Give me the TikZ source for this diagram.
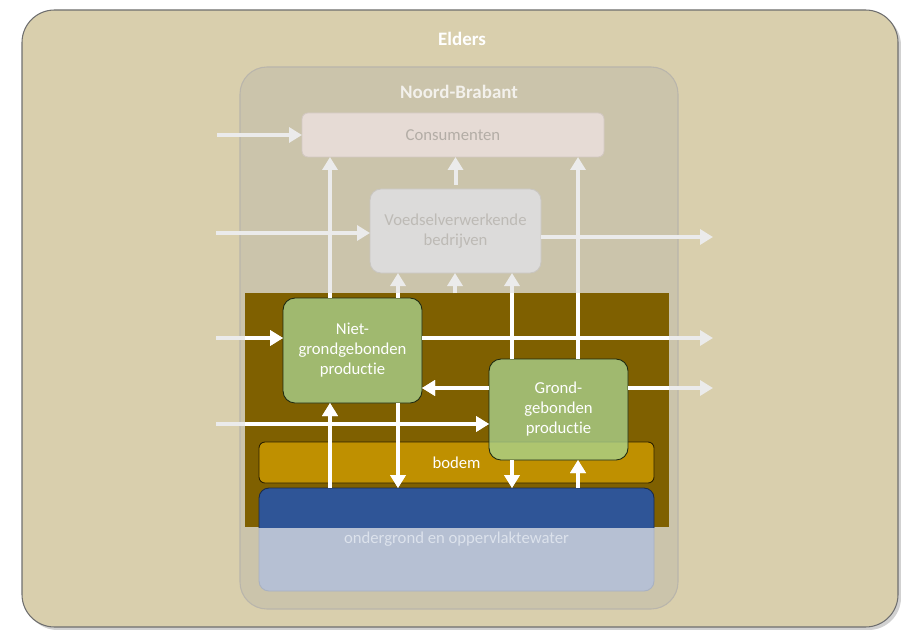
\documentclass[tikz,border=0pt]{standalone}
\usepackage{fontspec}
\setmainfont{Carlito}[Ligatures=NoCommon]
\usetikzlibrary{arrows.meta, calc, positioning}

\definecolor{eldersbg}{HTML}{D9CFAD}
\definecolor{eldersline}{HTML}{6F6F6F}
\definecolor{nbbg}{HTML}{CBC4AB}
\definecolor{nbline}{HTML}{B9B5AB}
\definecolor{nbtitle}{HTML}{F3F1EC}
\definecolor{consbg}{HTML}{E6DBD5}
\definecolor{consline}{HTML}{D3C9C2}
\definecolor{constext}{HTML}{B3ADA6}
\definecolor{voedselbg}{HTML}{DCDBDA}
\definecolor{voedselline}{HTML}{C9C6C1}
\definecolor{voedseltext}{HTML}{BDBAB5}
\definecolor{focusbg}{HTML}{7F6000}
\definecolor{prodbg}{HTML}{AAD591}
\definecolor{prodline}{HTML}{1E2A12}
\definecolor{bodembg}{HTML}{BF9000}
\definecolor{bodemline}{HTML}{2B2000}
\definecolor{waterbg}{HTML}{2F5597}
\definecolor{waterline}{HTML}{1A2A4A}
\definecolor{waterfade}{HTML}{B6C0D3}
\definecolor{waterfadeline}{HTML}{A8B1C2}
\definecolor{watertext}{HTML}{DCE2EC}
\definecolor{fadegray}{HTML}{EBEBEB}

% alle stromen
\newcommand{\flows}{%
\draw[flow] (in1) -- (cons.west);
\draw[flow] (in2) -- (in2 -| voedsel.west);
\draw[flow] (out1 -| voedsel.east) -- (out1);
\draw[flow, shorten <=0.8mm] (voedsel.north) -- (cons.south -| voedsel.north);
\draw[flow] (c1 |- niet.north) -- (c1 |- cons.south);
\draw[flow] (c2 |- niet.north) -- (c2 |- voedsel.south);
\draw[flow] (c3 |- focus.north) -- (c3 |- voedsel.south);
\draw[flow] (c4 |- grond.north) -- (c4 |- voedsel.south);
\draw[flow] (c5 |- grond.north) -- (c5 |- cons.south);
\draw[flow] (in3) -- (in3 -| niet.west);
\draw[flow] (out2 -| niet.east) -- (out2);
\draw[flow] (out3 -| grond.west) -- (out3 -| niet.east);
\draw[flow] (out3 -| grond.east) -- (out3);
\draw[flow] (in4) -- (in4 -| grond.west);
\draw[flow] (c1 |- water.north) -- (c1 |- niet.south);
\draw[flow] (c2 |- niet.south) -- (c2 |- water.north);
\draw[flow] (c4 |- grond.south) -- (c4 |- water.north);
\draw[flow] (c5 |- water.north) -- (c5 |- grond.south);
}

\begin{document}
\begin{tikzpicture}[x=0.2mm, y=-0.2mm,
    every node/.style={font=\fontsize{9.5}{11.4}\selectfont, inner sep=0pt, outer sep=0pt, align=center},
    dims/.style 2 args={minimum width={#1*0.2mm}, minimum height={#2*0.2mm}},
    title/.style={font=\fontsize{10.8}{13}\selectfont\bfseries, text=white},
    prod/.style={fill=prodbg, fill opacity=0.77, text opacity=1, draw=prodline, line width=0.5pt, rounded corners=2.4mm, text=white},
    flowline/.style={line width=0.8mm, -{Triangle[length=2.6mm, width=3mm]}},
    flow/.style={flowline, draw=fadegray}]
\useasboundingbox (0,0) rectangle (901,629);

\fill[black!30, opacity=0.6, rounded corners=6.5mm] (25,13) rectangle (901,630);
\node[dims={876}{617}, fill=eldersbg, draw=eldersline, line width=0.6pt, rounded corners=6.5mm] (elders) at (460,318.5) {};
\node[title] (eldersname) at (462,39) {Elders};
\node[dims={438}{542}, fill=nbbg, draw=nbline, line width=0.6pt, rounded corners=5.4mm] (nb) at (459,338) {};
\node[title, text=nbtitle] (nbname) at (459,92) {Noord-Brabant};

\node[dims={395}{103}, fill=waterfade, draw=waterfadeline, line width=0.5pt, rounded corners=2mm, text=watertext] (water) at (456.5,539.5) {ondergrond en oppervlaktewater};
\node[dims={424}{234}, fill=focusbg] (focus) at (457,410) {};
\begin{scope}
\clip (focus.south west) rectangle (focus.north east);
\draw[fill=waterbg, draw=waterline, line width=0.5pt, rounded corners=2mm] (water.south west) rectangle (water.north east);
\end{scope}

\node[dims={395}{41}, fill=bodembg, draw=bodemline, line width=0.5pt, rounded corners=1.2mm, text=white] (bodem) at (456.5,462.5) {bodem};
\node[prod, dims={139}{105}] (niet) at (352.5,350.5) {Niet-\\grondgebonden\\productie};
\node[prod, dims={139}{101}] (grond) at (558.5,409.5) {Grond-\\gebonden\\productie};
\node[dims={302}{44}, fill=consbg, draw=consline, line width=0.5pt, rounded corners=1.2mm, text=constext] (cons) at (453,135) {Consumenten};
\node[dims={171}{84}, fill=voedselbg, draw=voedselline, line width=0.5pt, rounded corners=2.2mm, text=voedseltext] (voedsel) at (455.5,231) {Voedselverwerkende\\bedrijven};

\coordinate (c1) at (330,0);
\coordinate (c2) at (398,0);
\coordinate (c3) at (455,0);
\coordinate (c4) at (512,0);
\coordinate (c5) at (578,0);
\coordinate (in1) at (217,135);
\coordinate (in2) at (216,233);
\coordinate (in3) at (216,338);
\coordinate (in4) at (216,424);
\coordinate (out1) at (713,237);
\coordinate (out2) at (713,338);
\coordinate (out3) at (713,388);

\flows
\begin{scope}[flow/.style={flowline, draw=white}]
\clip (focus.south west) rectangle (focus.north east);
\flows
\end{scope}
\end{tikzpicture}
\end{document}
